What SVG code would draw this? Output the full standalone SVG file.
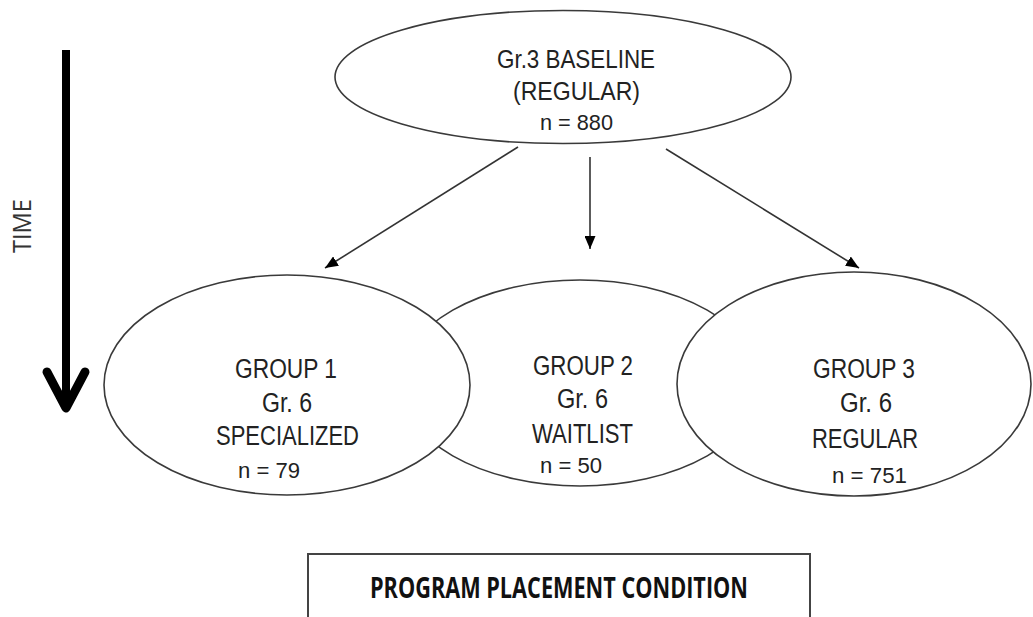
<svg xmlns="http://www.w3.org/2000/svg" width="1033" height="617" viewBox="0 0 1033 617">
<defs>
<style>
.node{fill:#fff;stroke:#3a3a3a;stroke-width:1.6}
.lbl{font-family:"Liberation Sans",Arial,sans-serif;font-size:27px;fill:#222}
.top{font-family:"Liberation Sans",Arial,sans-serif;font-size:26px;fill:#222}
.n{font-family:"Liberation Sans",Arial,sans-serif;font-size:22px;fill:#222}
.conn{stroke:#333;stroke-width:1.6;fill:none}
</style>
<marker id="ah" markerUnits="userSpaceOnUse" markerWidth="13" markerHeight="11" refX="13" refY="5.5" orient="auto">
<path d="M0,0 L13,5.5 L0,11 z" fill="#000"/>
</marker>
</defs>
<rect width="1033" height="617" fill="#fff"/>

<g id="time-axis">
<line x1="66" y1="50" x2="66" y2="404" stroke="#000" stroke-width="8"/>
<polyline points="47,372 66,408 85,372" fill="none" stroke="#000" stroke-width="9" stroke-linecap="round" stroke-linejoin="round"/>
<text transform="translate(31,226) rotate(-90)" text-anchor="middle" font-family="'Open Sans',sans-serif" font-size="25" fill="#333" textLength="54" lengthAdjust="spacingAndGlyphs">TIME</text>
</g>

<g id="baseline">
<ellipse class="node" cx="563" cy="77" rx="228" ry="66.5" stroke-width="2"/>
<text class="top" x="497" y="68" textLength="158" lengthAdjust="spacingAndGlyphs">Gr.3 BASELINE</text>
<text class="top" x="513" y="100" textLength="127" lengthAdjust="spacingAndGlyphs">(REGULAR)</text>
<text class="n" x="540" y="130" textLength="73" lengthAdjust="spacingAndGlyphs">n = 880</text>
</g>

<g id="group2">
<ellipse class="node" cx="580" cy="383" rx="180" ry="103" stroke-width="2"/>
<text class="lbl" x="533" y="375" textLength="100" lengthAdjust="spacingAndGlyphs">GROUP 2</text>
<text class="lbl" x="557" y="408" textLength="51" lengthAdjust="spacingAndGlyphs">Gr. 6</text>
<text class="lbl" x="532" y="443" textLength="101" lengthAdjust="spacingAndGlyphs">WAITLIST</text>
<text class="n" x="540" y="473" textLength="62" lengthAdjust="spacingAndGlyphs">n = 50</text>
</g>

<g id="group1">
<ellipse class="node" cx="287" cy="385" rx="183" ry="110"/>
<text class="lbl" x="235" y="378" textLength="102" lengthAdjust="spacingAndGlyphs">GROUP 1</text>
<text class="lbl" x="262" y="412" textLength="50" lengthAdjust="spacingAndGlyphs">Gr. 6</text>
<text class="lbl" x="216" y="445" textLength="143" lengthAdjust="spacingAndGlyphs">SPECIALIZED</text>
<text class="n" x="238" y="478" textLength="62" lengthAdjust="spacingAndGlyphs">n = 79</text>
</g>

<g id="group3">
<ellipse class="node" cx="854" cy="384" rx="177" ry="112"/>
<text class="lbl" x="813" y="378" textLength="102" lengthAdjust="spacingAndGlyphs">GROUP 3</text>
<text class="lbl" x="840" y="412" textLength="52" lengthAdjust="spacingAndGlyphs">Gr. 6</text>
<text class="lbl" x="812" y="448" textLength="106" lengthAdjust="spacingAndGlyphs">REGULAR</text>
<text class="n" x="832" y="483" textLength="75" lengthAdjust="spacingAndGlyphs">n = 751</text>
</g>

<g id="connectors">
<line class="conn" x1="518" y1="147" x2="325" y2="268" marker-end="url(#ah)"/>
<line class="conn" x1="590" y1="157" x2="590" y2="249" marker-end="url(#ah)"/>
<line class="conn" x1="666" y1="149" x2="859" y2="268" marker-end="url(#ah)"/>
</g>

<g id="condition">
<rect x="308" y="554" width="502" height="90" fill="#fff" stroke="#444" stroke-width="2"/>
<text x="370" y="598" font-family="'Open Sans',sans-serif" font-weight="bold" font-size="28" fill="#111" textLength="378" lengthAdjust="spacingAndGlyphs">PROGRAM PLACEMENT CONDITION</text>
</g>
</svg>
